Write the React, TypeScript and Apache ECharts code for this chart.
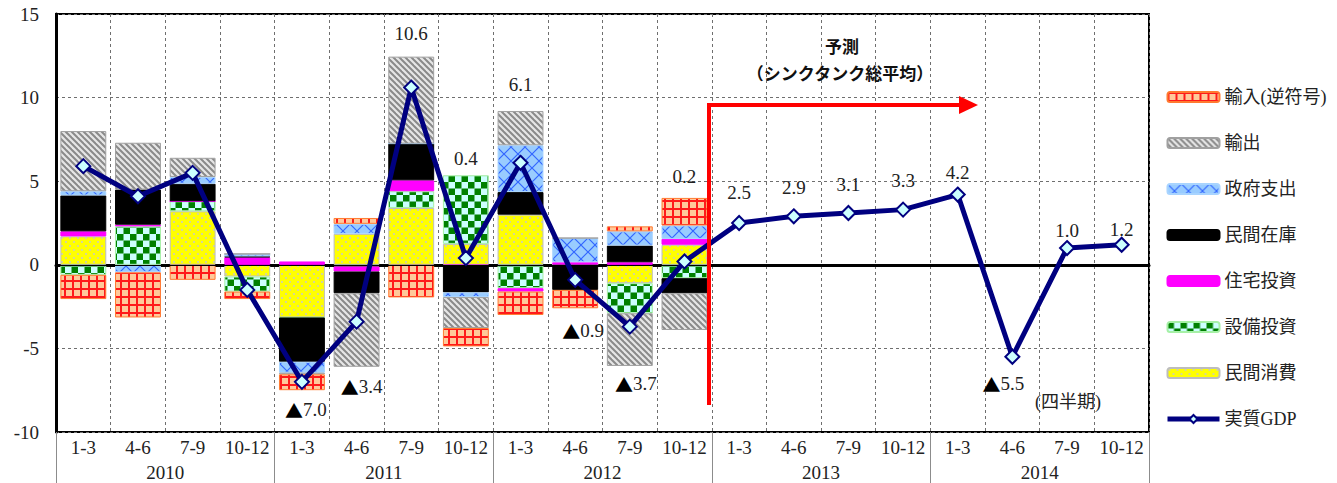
import React, { useEffect, useRef } from "react";
import * as echarts from "echarts";

// Quarter and year labels for the two-level category axis
const quarters = [
  "1-3", "4-6", "7-9", "10-12",
  "1-3", "4-6", "7-9", "10-12",
  "1-3", "4-6", "7-9", "10-12",
  "1-3", "4-6", "7-9", "10-12",
  "1-3", "4-6", "7-9", "10-12",
];
const years = ["2010", "2011", "2012", "2013", "2014"];

// Contributions to real GDP growth (annualised, %pt), 2010 1-3 .. 2012 10-12
const consumption = [1.7, 0, 3.2, -0.7, -3.15, 1.85, 3.4, 1.25, 3.0, 0, -1.1, 1.2];
const equipment = [-0.6, 2.3, 0.6, -0.9, 0, -0.1, 1.0, 4.1, -1.4, 0, -1.8, -0.8];
const housing = [0.3, 0.1, 0, 0.45, 0.2, -0.3, 0.65, -0.05, -0.2, 0.15, 0.15, 0.35];
const inventory = [2.15, 2.1, 1.05, 0.05, -2.65, -1.3, 2.2, -1.6, 1.35, -1.5, 1.0, -0.9];
const government = [0.25, -0.45, 0.4, 0.15, -0.65, 0.6, 0, -0.28, 2.8, 1.45, 0.85, 0.8];
const exportsC = [3.6, 2.8, 1.15, 0, -0.1, -4.4, 5.2, -1.85, 2.05, 0, -3.15, -2.2];
const importsC = [-1.45, -2.7, -0.9, -0.45, -0.95, 0.35, -1.95, -1.1, -1.4, -1.1, 0.3, 1.65];

// Real GDP growth (annualised q/q, %), actual + forecast
const gdp = [
  5.9, 4.1, 5.5, -1.5,
  -7.0, -3.4, 10.6, 0.4,
  6.1, -0.9, -3.7, 0.2,
  2.5, 2.9, 3.1, 3.3,
  4.2, -5.5, 1.0, 1.2,
];

// Pixel nudges [dx, dy] for each GDP value label (null: no label shown)
const gdpLabelNudge: ([number, number] | null)[] = [
  null, null, null, null,
  [4, 28], [5, 65], [0, -54], [0, -100],
  [0, -78], [8, 51], [6, 57], [0, -85],
  [0, -31], [0, -29], [0, -28], [0, -29],
  [0, -22], [-9, 27], [0, -18], [0, -15],
];

const SERIF = "'Liberation Serif', 'Noto Sans CJK JP', serif";
const GOTHIC = "'Noto Sans CJK JP', 'Noto Sans', sans-serif";

function tile(w: number, h: number, paint: (ctx: CanvasRenderingContext2D) => void) {
  const c = document.createElement("canvas");
  c.width = w;
  c.height = h;
  const ctx = c.getContext("2d") as CanvasRenderingContext2D;
  paint(ctx);
  return { image: c, repeat: "repeat", imageWidth: w, imageHeight: h } as any;
}

// Negative values are written with a leading black triangle
function fmt(v: number) {
  return v < 0 ? "{tri|▲}" + Math.abs(v).toFixed(1) : v.toFixed(1);
}

export default function App() {
  const ref = useRef<HTMLDivElement>(null);

  useEffect(() => {
    if (!ref.current) return;
    const chart = echarts.init(ref.current, null, { renderer: "svg" });

    const importsFill = tile(8, 8, (ctx) => {
      ctx.fillStyle = "#FFC99A";
      ctx.fillRect(0, 0, 8, 8);
      ctx.fillStyle = "#FF1A1A";
      ctx.fillRect(0, 0, 8, 2);
      ctx.fillRect(0, 0, 2, 8);
    });
    const exportsFill = tile(6, 6, (ctx) => {
      ctx.fillStyle = "#E6E6E6";
      ctx.fillRect(0, 0, 6, 6);
      ctx.strokeStyle = "#8A8A8A";
      ctx.lineWidth = 2;
      for (const k of [-6, 0, 6]) {
        ctx.beginPath();
        ctx.moveTo(k - 1, -1);
        ctx.lineTo(k + 7, 7);
        ctx.stroke();
      }
    });
    const governmentFill = tile(14, 14, (ctx) => {
      ctx.fillStyle = "#99CCFF";
      ctx.fillRect(0, 0, 14, 14);
      ctx.strokeStyle = "#3366FF";
      ctx.lineWidth = 1.2;
      ctx.beginPath();
      ctx.moveTo(0, 0);
      ctx.lineTo(14, 14);
      ctx.moveTo(14, 0);
      ctx.lineTo(0, 14);
      ctx.stroke();
    });
    const equipmentFill = tile(13, 13, (ctx) => {
      ctx.fillStyle = "#CCFFFF";
      ctx.fillRect(0, 0, 13, 13);
      ctx.fillStyle = "#008000";
      ctx.fillRect(0, 0, 6.5, 6.5);
      ctx.fillRect(6.5, 6.5, 6.5, 6.5);
    });
    const consumptionFill = tile(8, 8, (ctx) => {
      ctx.fillStyle = "#FFFF00";
      ctx.fillRect(0, 0, 8, 8);
      ctx.fillStyle = "#C8C8C8";
      ctx.beginPath();
      ctx.arc(2, 2, 1, 0, Math.PI * 2);
      ctx.arc(6, 6, 1, 0, Math.PI * 2);
      ctx.fill();
    });

    const barBase = {
      type: "bar",
      stack: "contrib",
      barCategoryGap: "16%",
      xAxisIndex: 0,
    };

    const bars = [
      { name: "民間消費", data: consumption, color: consumptionFill, border: "#BDBDBD" },
      { name: "設備投資", data: equipment, color: equipmentFill, border: "#A6F0A6" },
      { name: "住宅投資", data: housing, color: "#FF00FF", border: "#FF00FF" },
      { name: "民間在庫", data: inventory, color: "#000000", border: "#000000" },
      { name: "政府支出", data: government, color: governmentFill, border: "#A8D4FF" },
      { name: "輸出", data: exportsC, color: exportsFill, border: "#A0A0A0" },
      { name: "輸入(逆符号)", data: importsC, color: importsFill, border: "#FF7A30" },
    ].map((b) => ({
      ...barBase,
      name: b.name,
      data: b.data,
      itemStyle: { color: b.color, borderColor: b.border, borderWidth: 1 },
    }));

    const gdpData = gdp.map((v, i) => {
      const n = gdpLabelNudge[i];
      return {
        value: v,
        label: n ? { show: true, offset: n } : { show: false },
      };
    });

    chart.setOption({
      animation: false,
      textStyle: { fontFamily: SERIF },
      grid: {
        left: 56,
        right: 188,
        top: 14,
        bottom: 51,
        show: true,
        borderColor: "#000",
        borderWidth: 2,
        backgroundColor: "transparent",
      },
      legend: {
        orient: "vertical",
        left: 1160,
        top: 82,
        itemWidth: 52,
        itemHeight: 10,
        itemGap: 26,
        textStyle: { fontSize: 18, lineHeight: 20, color: "#222", fontFamily: SERIF },
        data: [
          "輸入(逆符号)", "輸出", "政府支出", "民間在庫", "住宅投資", "設備投資", "民間消費",
          { name: "実質GDP", lineStyle: { width: 5, color: "#000080" } },
        ],
      },
      xAxis: [
        {
          type: "category",
          data: quarters,
          position: "bottom",
          axisLine: { show: true, lineStyle: { color: "#000", width: 3 } },
          axisTick: { show: false },
          axisLabel: { interval: 0, fontSize: 19, margin: 6, color: "#222", fontFamily: SERIF },
          splitLine: { show: true, interval: 0, lineStyle: { type: [3, 3], color: "#6F6F6F", width: 1 } },
        },
        {
          type: "category",
          data: years,
          position: "bottom",
          axisLine: { show: false },
          axisTick: { show: true, interval: 0, length: 51, lineStyle: { color: "#8C8C8C", width: 1 } },
          axisLabel: { interval: 0, fontSize: 19, margin: 31, color: "#222", fontFamily: SERIF },
          splitLine: { show: false },
        },
      ],
      yAxis: {
        type: "value",
        min: -10,
        max: 15,
        interval: 5,
        axisLine: { show: true, lineStyle: { color: "#000", width: 3 } },
        axisTick: { show: false },
        axisLabel: { fontSize: 19, margin: 17, color: "#222", fontFamily: SERIF },
        splitLine: { show: true, lineStyle: { type: [3, 3], color: "#6F6F6F", width: 1 } },
      },
      series: [
        ...bars,
        {
          type: "line",
          name: "実質GDP",
          xAxisIndex: 0,
          data: gdpData,
          symbol: "diamond",
          symbolSize: 14,
          lineStyle: { color: "#000080", width: 5 },
          itemStyle: { color: "#CCFFFF", borderColor: "#000080", borderWidth: 2 },
          label: {
            position: "inside",
            fontSize: 19,
            color: "#222",
            fontFamily: SERIF,
            formatter: (p: any) => fmt(p.value),
            rich: {
              tri: { fontSize: 18, fontFamily: GOTHIC, color: "#000" },
            },
          },
          markLine: {
            silent: true,
            symbol: ["none", "none"],
            label: { show: false },
            lineStyle: { color: "#000", type: "solid", width: 1.2 },
            data: [{ yAxis: 0 }],
          },
          z: 5,
        },
      ],
      graphic: [
        {
          type: "polyline",
          shape: { points: [[709, 405], [709, 105], [962, 105]] },
          style: { stroke: "#FF0000", lineWidth: 4, fill: null },
          z: 100,
        },
        {
          type: "polygon",
          shape: { points: [[959, 96], [978, 105], [959, 114]] },
          style: { fill: "#FF0000" },
          z: 100,
        },
        {
          type: "text",
          x: 842,
          y: 45,
          style: { text: "予測", fontSize: 17, fontWeight: "bold", fontFamily: GOTHIC, fill: "#111", align: "center", verticalAlign: "middle" },
          z: 100,
        },
        {
          type: "text",
          x: 840,
          y: 72,
          style: { text: "（シンクタンク総平均）", fontSize: 17, fontWeight: "bold", fontFamily: GOTHIC, fill: "#111", align: "center", verticalAlign: "middle" },
          z: 100,
        },
        {
          type: "text",
          x: 1068,
          y: 402,
          style: { text: "(四半期)", fontSize: 18, fontFamily: SERIF, fill: "#222", align: "center", verticalAlign: "middle" },
          z: 100,
        },
      ],
    });

    return () => chart.dispose();
  }, []);

  return (
    <div
      ref={ref}
      style={{ position: "absolute", left: 0, top: 0, width: 1337, height: 483, background: "#fff" }}
    />
  );
}
